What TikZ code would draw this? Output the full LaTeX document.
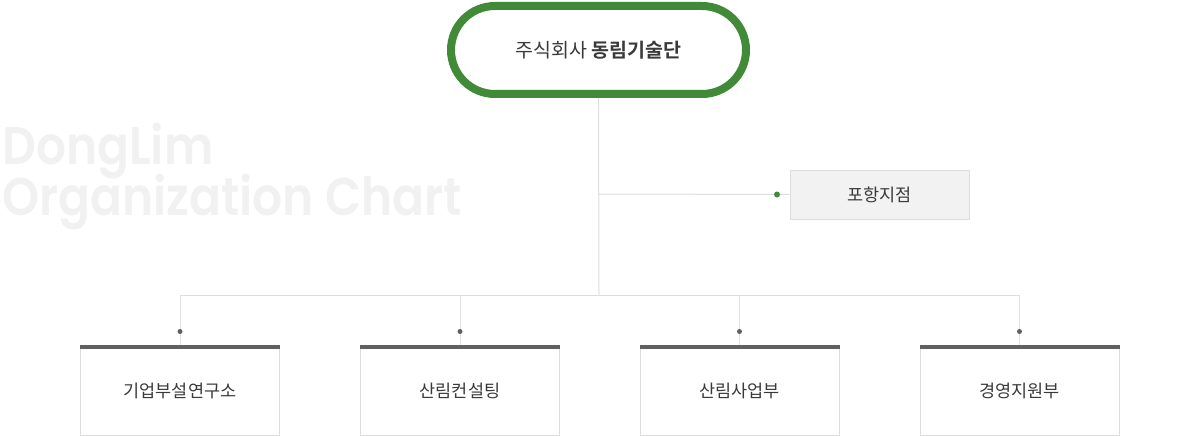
\documentclass[tikz,border=0pt]{standalone}
\usepackage{fontspec}
\newfontfamily\kr{Noto Sans CJK KR}
\newfontfamily\krb{Noto Sans CJK KR}[BoldFont={* Bold}]
\newfontfamily\wm{Poppins}[UprightFont={* SemiBold}]
\usetikzlibrary{positioning}
\definecolor{dlgreen}{HTML}{408A38}
\definecolor{lineg}{HTML}{DDDDDD}
\definecolor{txt}{HTML}{3A3A3A}
\definecolor{dark}{HTML}{606060}
\definecolor{wmc}{HTML}{F1F1F1}
\tikzset{
  x=1pt,y=-1pt,
  conn/.style={draw=lineg,line width=1pt},
  dept/.style={draw=lineg,fill=white,line width=1pt,minimum width=199pt,minimum height=88pt,inner sep=0pt,font=\kr\fontsize{17.5}{20}\selectfont,text=txt},
  topbar/.style={draw=dark,line width=4pt},
  bdot/.style={circle,fill=dark,inner sep=0pt,minimum size=5pt},
  gdot/.style={circle,fill=dlgreen,inner sep=0pt,minimum size=6pt},
  wmark/.style={anchor=base west,inner sep=0pt,text=wmc,font=\wm\fontsize{53}{53}\selectfont},
}
\begin{document}
\begin{tikzpicture}
\useasboundingbox (0,0) rectangle (1200,436);
% watermark
\node[wmark] (wm1) at (2,164.5) {\scalebox{0.89}[1]{DongLim}};
\node[wmark] (wm2) at (2,215) {\scalebox{0.89}[1]{Organization Chart}};
% connectors
\coordinate (bus) at (599,295);
\coordinate (busL) at (180,295);
\coordinate (busR) at (1019,295);
\coordinate (br) at (599,194);
% top node
\node[draw=dlgreen,line width=8pt,rounded corners=44pt,minimum width=295pt,minimum height=88pt,inner sep=0pt,fill=white,text=txt,font=\krb\fontsize{19.5}{22}\selectfont] (top) at (598.5,50) {주식회사 \textbf{동림기술단}};
\draw[conn] (top.south) -- (bus);
% branch
\node[draw=lineg,fill=black!5,line width=1pt,minimum width=179pt,minimum height=49pt,inner sep=0pt,font=\kr\fontsize{17.5}{20}\selectfont,text=txt] (po) at (879.5,194.5) {포항지점};
\draw[conn] (br) -- (po.west);
\node[gdot] (gd) at (777,194.5) {};
% bus
\draw[conn] (busL) -- (busR);
\foreach \n/\cx/\t in {d1/180/기업부설연구소,d2/460/산림컨설팅,d3/739.5/산림사업부,d4/1019.5/경영지원부}{
  \node[dept] (\n) at (\cx,391) {\t};
  \draw[conn] (\cx,295) -- (\n.north);
  \draw[topbar] (\n.north west) -- (\n.north east);
  \node[bdot] at (\cx,331.5) {};
}
\end{tikzpicture}
\end{document}
